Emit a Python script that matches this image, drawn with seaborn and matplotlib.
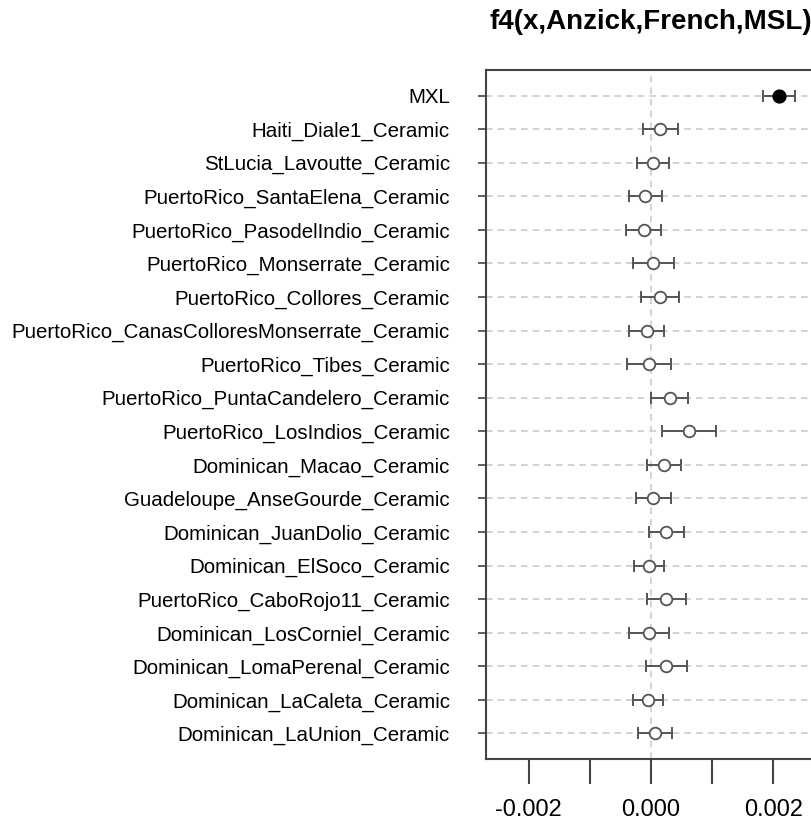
import numpy as np
import pandas as pd
import matplotlib
matplotlib.use("Agg")
import matplotlib.pyplot as plt
import seaborn as sns

populations = [
    "MXL",
    "Haiti_Diale1_Ceramic",
    "StLucia_Lavoutte_Ceramic",
    "PuertoRico_SantaElena_Ceramic",
    "PuertoRico_PasodelIndio_Ceramic",
    "PuertoRico_Monserrate_Ceramic",
    "PuertoRico_Collores_Ceramic",
    "PuertoRico_CanasColloresMonserrate_Ceramic",
    "PuertoRico_Tibes_Ceramic",
    "PuertoRico_PuntaCandelero_Ceramic",
    "PuertoRico_LosIndios_Ceramic",
    "Dominican_Macao_Ceramic",
    "Guadeloupe_AnseGourde_Ceramic",
    "Dominican_JuanDolio_Ceramic",
    "Dominican_ElSoco_Ceramic",
    "PuertoRico_CaboRojo11_Ceramic",
    "Dominican_LosCorniel_Ceramic",
    "Dominican_LomaPerenal_Ceramic",
    "Dominican_LaCaleta_Ceramic",
    "Dominican_LaUnion_Ceramic",
]
f4_values = [0.00209, 0.000154, 0.000039, -0.000094, -0.000116, 0.000039, 0.000154,
             -0.000072, -0.000033, 0.000303, 0.000628, 0.000215, 0.000039, 0.000253,
             -0.000033, 0.000253, -0.000033, 0.000253, -0.000055, 0.000066]
f4_err = [0.00026, 0.00029, 0.00026, 0.00027, 0.000285, 0.00034, 0.00031, 0.000287,
          0.000355, 0.000295, 0.00044, 0.000275, 0.00029, 0.00028, 0.00025, 0.000325,
          0.00033, 0.00034, 0.000245, 0.00028]
significant = [True] + [False] * 19
x_ticks = [-0.002, -0.001, 0.0, 0.001, 0.002]
x_ticklabels = ["-0.002", "", "0.000", "", "0.002"]
title = "f4(x,Anzick,French,MSL)"

sns.set_style("white")
plt.rcParams["font.family"] = ["Liberation Sans", "DejaVu Sans"]
plt.rcParams["text.color"] = "black"
plt.rcParams["xtick.color"] = "#444444"
plt.rcParams["ytick.color"] = "#444444"
plt.rcParams["xtick.labelcolor"] = "black"
plt.rcParams["ytick.labelcolor"] = "black"

df = pd.DataFrame({"pop": populations, "f4": f4_values, "se": f4_err,
                   "sig": significant})
df["ypos"] = np.arange(len(df))

fig = plt.figure(figsize=(8.12, 8.23), dpi=100)
ax = fig.add_axes([486 / 812, (823 - 759) / 823, 330 / 812, 689 / 823])

ax.axvline(0, color="#cccccc", linestyle=(0, (4, 3)), linewidth=1.2, zorder=0)
for yp in df["ypos"]:
    ax.axhline(yp, color="#cccccc", linestyle=(0, (4, 3)), linewidth=1.2, zorder=0)

ax.errorbar(df["f4"], df["ypos"], xerr=df["se"], fmt="none", ecolor="#555555",
            elinewidth=1.4, capsize=4.3, capthick=1.4, zorder=2)

open_df = df[~df["sig"]]
fill_df = df[df["sig"]]
sns.scatterplot(data=open_df, x="f4", y="ypos", ax=ax, s=70, marker="o",
                facecolor="white", edgecolor="#555555", linewidth=1.3, zorder=3,
                legend=False)
sns.scatterplot(data=fill_df, x="f4", y="ypos", ax=ax, s=85, marker="o",
                color="black", edgecolor="black", linewidth=1.0, zorder=3,
                legend=False)

n = len(df)
pad = 0.04 * (n - 1)
ax.set_ylim(n - 1 + pad, -pad)
ax.set_xlim(-0.0027, 0.0027)
ax.set_yticks(df["ypos"])
ax.set_yticklabels(df["pop"], fontsize=14.8)
ax.set_xticks(x_ticks)
ax.set_xticklabels(x_ticklabels, fontsize=17)
ax.set_xlabel("")
ax.set_ylabel("")
ax.tick_params(axis="y", length=6, width=1.2, pad=20, left=True)
ax.tick_params(axis="x", length=18, width=1.5, pad=11, bottom=True)
for side in ["left", "bottom", "top", "right"]:
    ax.spines[side].set_color("#444444")
    ax.spines[side].set_linewidth(1.5)

fig.text(651 / 812, 1 - 22 / 823, title, fontsize=20, fontweight="bold",
         ha="center", va="center")

fig.savefig("out.png", dpi=100)
